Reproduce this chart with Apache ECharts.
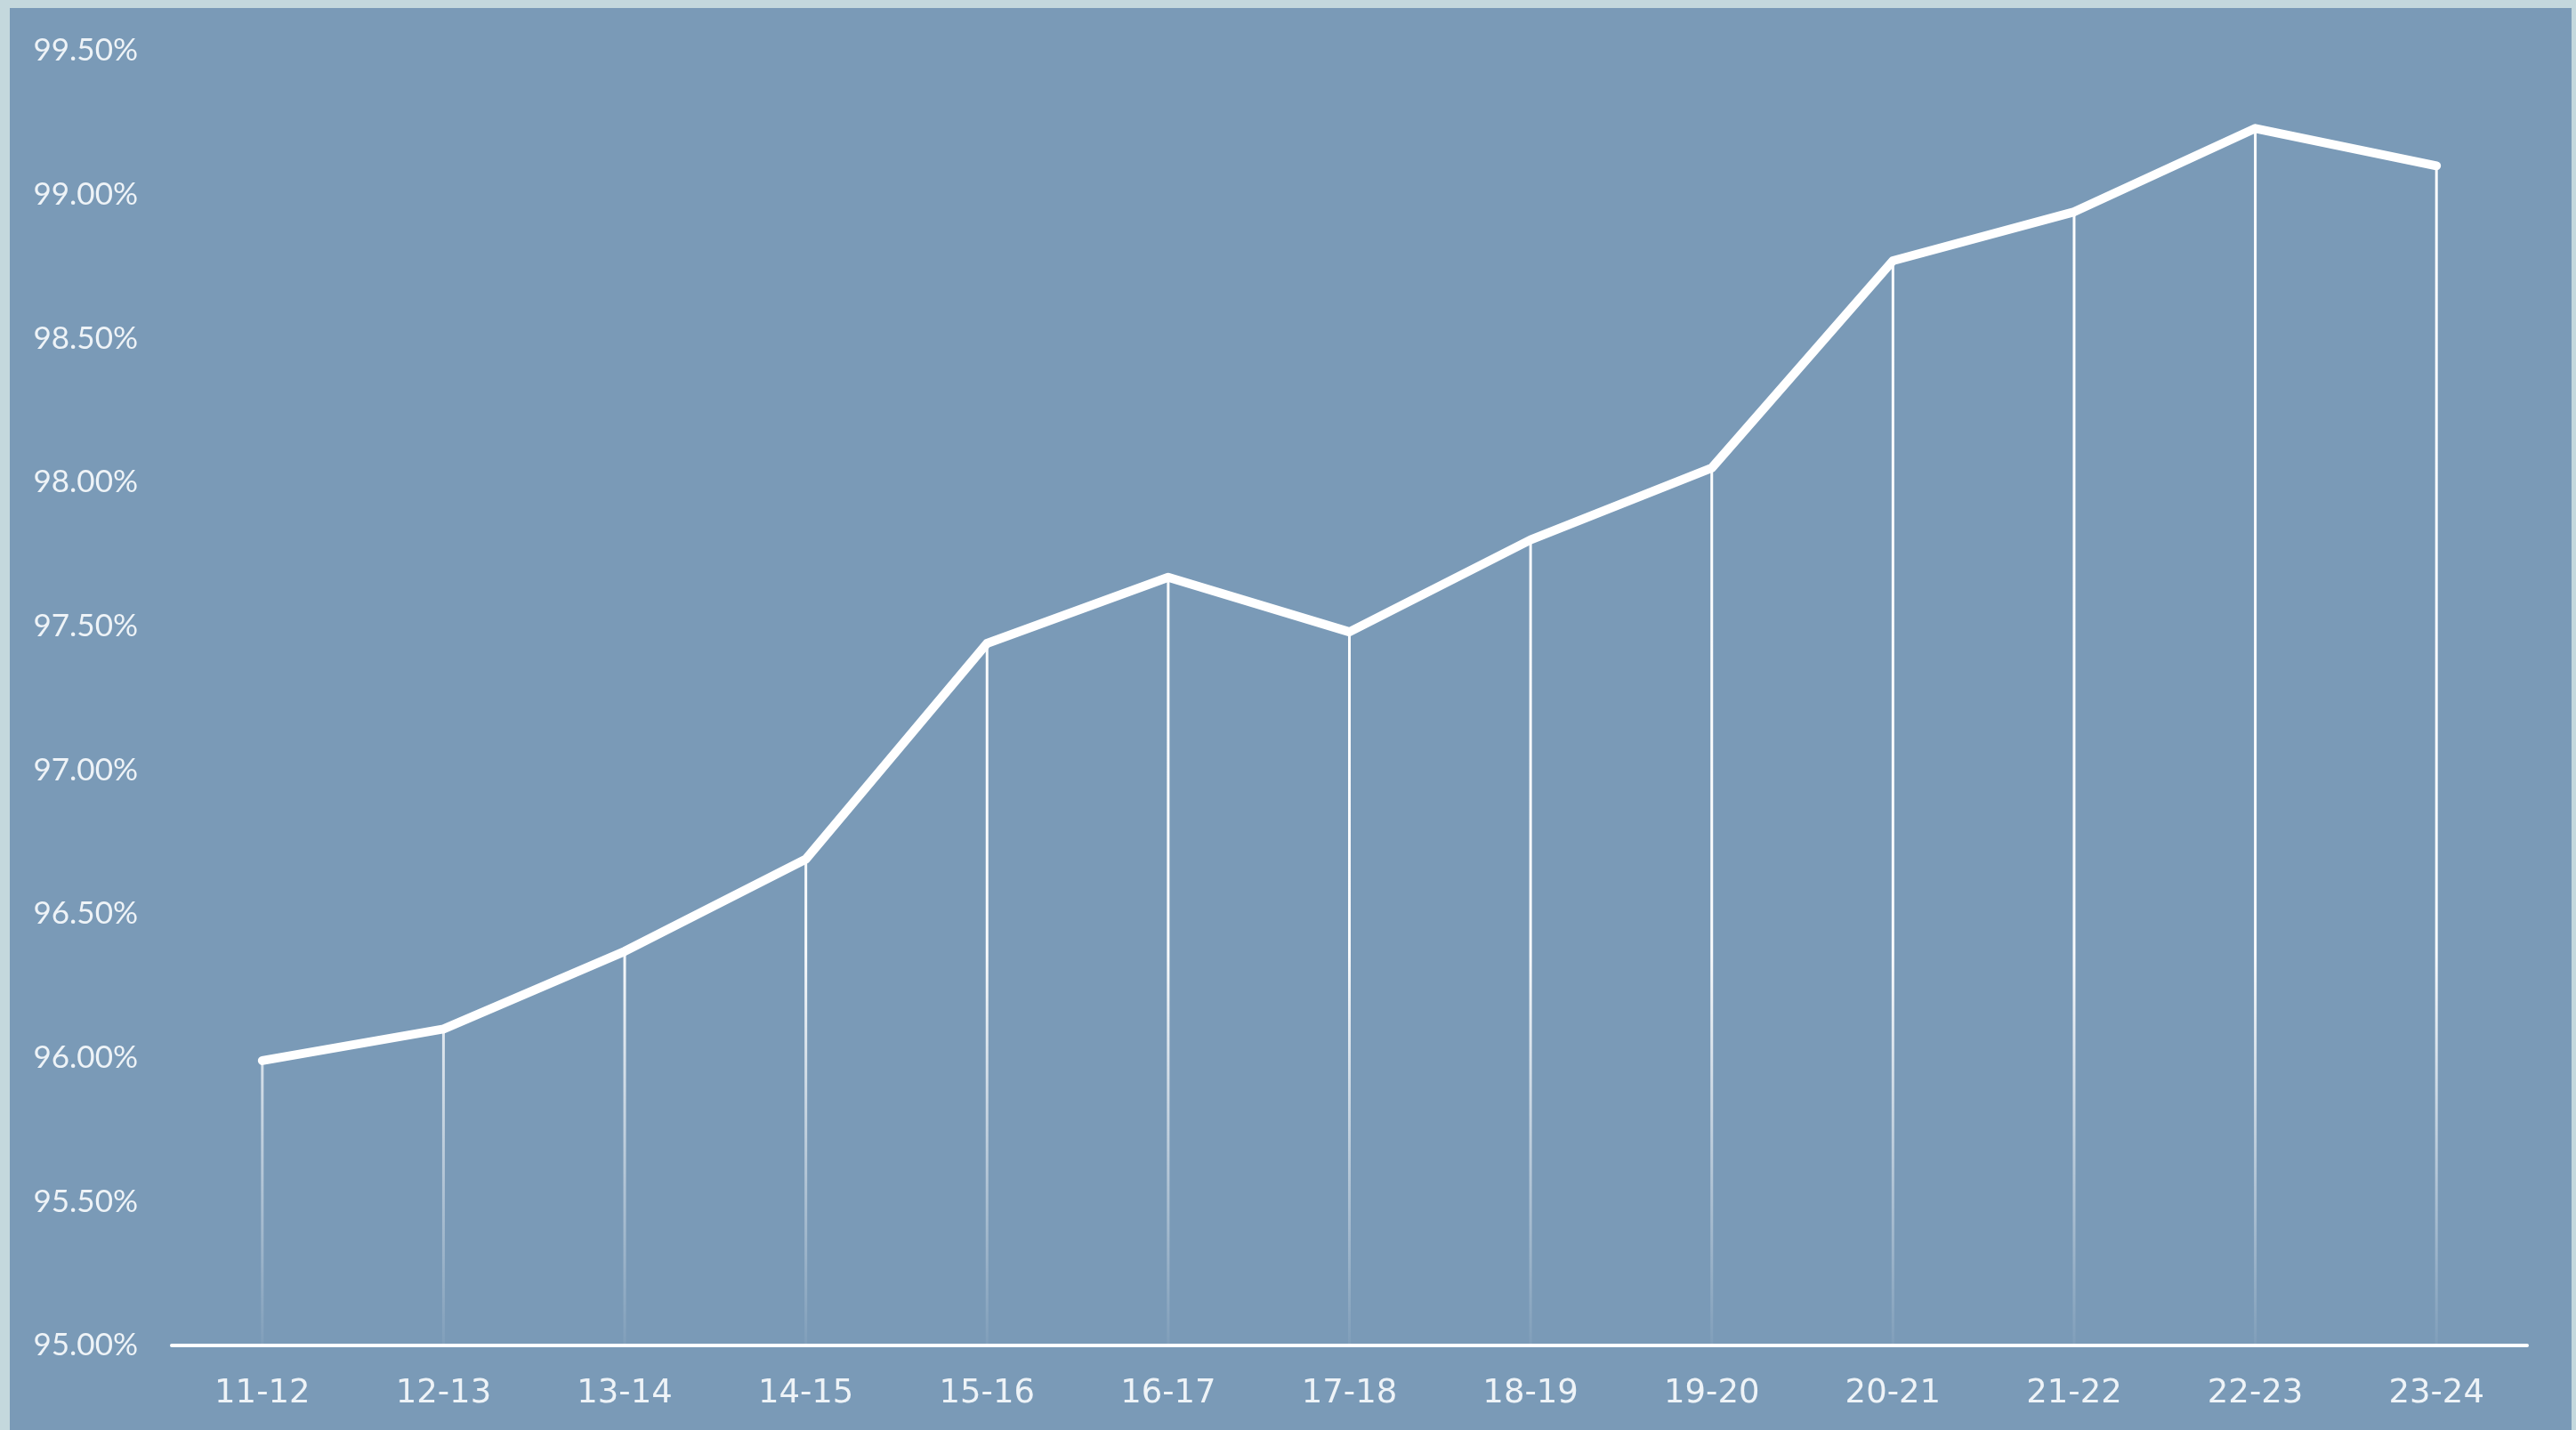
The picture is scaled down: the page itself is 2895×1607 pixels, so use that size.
<!DOCTYPE html>
<html>
<head>
<meta charset="utf-8">
<script src="https://cdn.jsdelivr.net/npm/echarts@6/dist/echarts.min.js"></script>
<style>
html,body{margin:0;padding:0;}
body{width:2895px;height:1607px;background:#c4d8dd;position:relative;overflow:hidden;}
#chart{position:absolute;left:11px;top:9px;width:2879px;height:1598px;}
</style>
</head>
<body>
<div id="chart"></div>
<script>
const categories = ['11-12','12-13','13-14','14-15','15-16','16-17','17-18','18-19','19-20','20-21','21-22','22-23','23-24'];
const values = [95.99, 96.10, 96.37, 96.69, 97.44, 97.67, 97.48, 97.80, 98.05, 98.77, 98.94, 99.23, 99.10];
const yMin = 95, yMax = 99.5, yStep = 0.5;

const chart = echarts.init(document.getElementById('chart'));
chart.setOption({
  backgroundColor: '#7a9ab7',
  animation: false,
  grid: { left: 182, right: 50, top: 48, bottom: 95, containLabel: false },
  xAxis: {
    type: 'category',
    data: categories,
    boundaryGap: true,
    axisLine: { show: true, lineStyle: { color: '#ffffff', width: 4 } },
    axisTick: { show: false },
    axisLabel: { color: '#eef3f7', fontFamily: 'DejaVu Sans', fontSize: 37, margin: 36 },
    splitLine: { show: false }
  },
  yAxis: {
    type: 'value',
    min: yMin, max: yMax, interval: yStep,
    axisLine: { show: false },
    axisTick: { show: false },
    splitLine: { show: false },
    axisLabel: {
      color: '#eef3f7', fontFamily: 'Lato', fontSize: 35, margin: 38,
      formatter: v => v.toFixed(2) + '%'
    }
  },
  series: [
    {
      type: 'bar',
      data: values,
      barWidth: 3,
      clip: true,
      itemStyle: {
        color: new echarts.graphic.LinearGradient(0, 40, 0, 1500, [
          { offset: 0, color: 'rgba(255,255,255,1)' },
          { offset: 0.7, color: 'rgba(255,255,255,0.95)' },
          { offset: 1, color: 'rgba(255,255,255,0.05)' }
        ], true)
      },
      z: 2
    },
    {
      type: 'line',
      data: values,
      symbol: 'none',
      lineStyle: { color: '#ffffff', width: 10, cap: 'round', join: 'round' },
      z: 3
    }
  ]
});
</script>
</body>
</html>
